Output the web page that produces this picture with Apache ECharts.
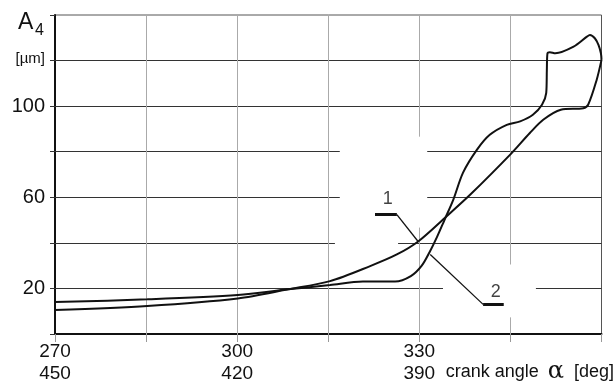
<!DOCTYPE html>
<html>
<head>
<meta charset="utf-8">
<script src="https://cdn.jsdelivr.net/npm/echarts@6/dist/echarts.min.js"></script>
<style>
  html, body { margin: 0; padding: 0; background: #fff; }
  #chart { width: 616px; height: 385px; }
</style>
</head>
<body>
<div id="chart"></div>
<script>
// curve 1 (smooth rise) and curve 2 (S-shaped with loop at the end), [deg, µm]
var curve1 = [
  [270, 10.5], [285.2, 12.3], [300.1, 15.6], [308.4, 19.6], [315.3, 23.2],
  [321.9, 29.8], [326.3, 34.9], [329.8, 40.6], [334.5, 51.7], [338.4, 61.2],
  [345.2, 79.4], [348.2, 88.2], [350.4, 94.0], [353.3, 98.4], [357.0, 99.1],
  [357.8, 100.6], [359.2, 111.5], [360, 120.3]
];
var curve2 = [
  [270, 14.0], [285.2, 15.2], [300.1, 17.1], [308.4, 19.6], [315.3, 21.5],
  [320.7, 23.0], [323.5, 23.0], [326.0, 23.0], [328.6, 25.4], [330.4, 30.0],
  [331.7, 36.0], [332.9, 42.5], [334.1, 49.8], [335.6, 59.0], [337.2, 70.8],
  [339.5, 80.9], [341.6, 87.4], [344.4, 91.8], [346.6, 93.3], [348.7, 96.2],
  [350.2, 100.6], [350.9, 105.8], [351.0, 115.9], [351.1, 123.2], [351.5, 123.7],
  [352.4, 123.2], [355.4, 126.1], [357.6, 130.5], [358.1, 131.2], [358.9, 129.8],
  [359.5, 126.9], [359.9, 123.2], [360, 120.3]
];

// axis ticks / labels
var xLabelValues = [270, 300, 330];
var xTopLabels = ['270', '300', '330'];
var xBottomLabels = ['450', '420', '390'];
var yLabelValues = [20, 60, 100];
var yUnitValue = 120;
var yUnit = '[µm]';

// grid pieces, broken where the drawing leaves gaps: [value, from, to]
var hGrid = [
  [20, 270, 333.9], [20, 349.2, 360],
  [40, 270, 316.1], [40, 326.5, 360],
  [60, 270, 316.9], [60, 331.3, 360],
  [80, 270, 316.9], [80, 331.3, 360],
  [100, 270, 360], [120, 270, 360]
];
var vGrid = [
  [285, 0, 140], [300, 0, 140], [315, 0, 140],
  [330, 0, 46.7], [330, 86.6, 140],
  [345, 0, 7.3], [345, 30.5, 140]
];

// curve labels with their leader lines
var curveNames = ['1', '2'];
var namePos = [[324.8, 59.2], [342.6, 18.5]];
var underlines = [[[322.7, 52.4], [326.3, 52.4]], [[340.5, 13.0], [343.9, 13.0]]];
var leaders = [[[326.3, 52.4], [329.8, 40.6]], [[331.8, 34.9], [340.5, 13.0]]];

var chart = echarts.init(document.getElementById('chart'));
var font = 'Liberation Sans, Arial, sans-serif';
var ink = '#111';

var option = {
  animation: false,
  backgroundColor: '#fff',
  grid: {
    left: 55, right: 14.5, top: 15, bottom: 50.3,
    show: true, borderColor: '#555', borderWidth: 1
  },
  xAxis: {
    type: 'value', min: 270, max: 360, interval: 15,
    axisLine: { lineStyle: { color: ink, width: 2 } },
    axisTick: { length: 8, lineStyle: { color: '#999', width: 1 } },
    splitLine: { show: false },
    axisLabel: {
      margin: 7, color: ink, fontFamily: font, fontSize: 19, lineHeight: 22,
      formatter: function (v) {
        var i = xLabelValues.indexOf(v);
        return i < 0 ? '' : xTopLabels[i] + '\n' + xBottomLabels[i];
      }
    }
  },
  yAxis: {
    type: 'value', min: 0, max: 140, interval: 20,
    axisLine: { lineStyle: { color: ink, width: 2 } },
    axisTick: { length: 5, lineStyle: { color: '#333', width: 1 } },
    splitLine: { show: false },
    axisLabel: {
      margin: 10, color: ink, fontFamily: font, fontSize: 20,
      formatter: function (v) {
        if (v === yUnitValue) return '{u|' + yUnit + '}';
        return yLabelValues.indexOf(v) < 0 ? '' : String(v);
      },
      rich: { u: { fontSize: 15, fontFamily: font, color: ink, padding: [0, 0, 4, 0] } }
    }
  },
  graphic: [
    { type: 'text', left: 18, top: 11, style: { text: 'A', font: '23px ' + font, fill: ink } },
    { type: 'text', left: 35, top: 23, style: { text: '4', font: '16px ' + font, fill: ink } },
    {
      type: 'text', right: 2, top: 360,
      style: {
        text: '{t|crank angle}{g|α}{t|[deg]}',
        rich: {
          t: { fontSize: 18, fontFamily: font, fill: ink },
          g: { fontSize: 24, fontFamily: 'DejaVu Serif', fill: ink, padding: [0, 10, 0, 9] }
        }
      }
    }
  ],
  series: [
    {
      type: 'lines', coordinateSystem: 'cartesian2d', silent: true, z: 1,
      lineStyle: { color: '#333', width: 1, opacity: 1 },
      data: hGrid.map(function (g) { return { coords: [[g[1], g[0]], [g[2], g[0]]] }; })
    },
    {
      type: 'lines', coordinateSystem: 'cartesian2d', silent: true, z: 1,
      lineStyle: { color: '#aaa', width: 1, opacity: 1 },
      data: vGrid.map(function (g) { return { coords: [[g[0], g[1]], [g[0], g[2]]] }; })
    },
    {
      type: 'line', data: curve1, showSymbol: false, smooth: 0.3, z: 3,
      lineStyle: { color: ink, width: 2 }
    },
    {
      type: 'line', data: curve2, showSymbol: false, smooth: 0.3, z: 3,
      lineStyle: { color: ink, width: 2 }
    },
    {
      type: 'lines', coordinateSystem: 'cartesian2d', silent: true, z: 4,
      lineStyle: { color: ink, width: 1.3, opacity: 1 },
      data: leaders.map(function (l) { return { coords: l }; })
    },
    {
      type: 'lines', coordinateSystem: 'cartesian2d', silent: true, z: 4,
      lineStyle: { color: ink, width: 3, opacity: 1 },
      data: underlines.map(function (l) { return { coords: l }; })
    },
    {
      type: 'scatter', symbolSize: 0, silent: true, z: 5,
      data: namePos.map(function (p, i) { return { value: p, name: curveNames[i] }; }),
      label: {
        show: true, position: 'inside', formatter: '{b}',
        color: ink, fontFamily: font, fontSize: 18
      }
    }
  ]
};
chart.setOption(option);
</script>
</body>
</html>
